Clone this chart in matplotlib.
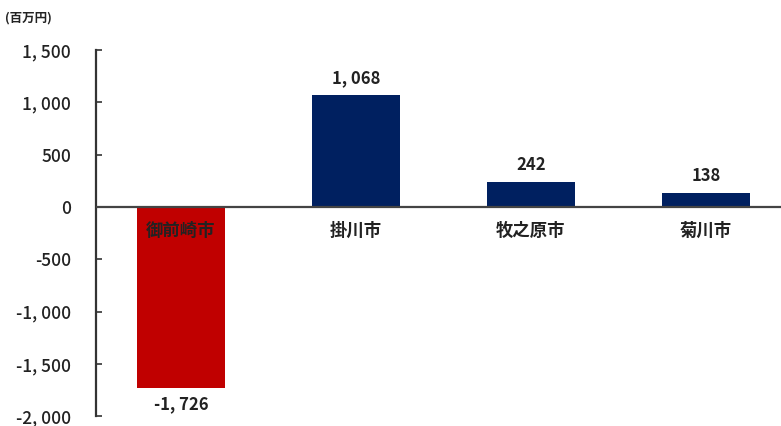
import matplotlib
matplotlib.use("Agg")
import matplotlib.pyplot as plt
from matplotlib.ticker import FixedLocator

plt.rcParams['font.family'] = ['Noto Sans CJK JP', 'DejaVu Sans']

categories = ["御前崎市", "掛川市", "牧之原市", "菊川市"]
values = [-1726, 1068, 242, 138]
value_labels = ["-1, 726", "1, 068", "242", "138"]
colors = ["#C00000", "#002060", "#002060", "#002060"]
yticks = [1500, 1000, 500, 0, -500, -1000, -1500, -2000]
ytick_labels = ["1, 500", "1, 000", "500", "0", "-500", "-1, 000", "-1, 500", "-2, 000"]
unit_label = "(百万円)"

fig = plt.figure(figsize=(7.81, 4.26), dpi=100)
bottom_px = 416.5
ax = fig.add_axes([96/781, 1-bottom_px/426, 1-96/781, (bottom_px-50)/426])

x = list(range(len(categories)))
ax.bar(x, values, width=0.5, color=colors, zorder=2)

ax.set_xlim(-0.486, 3.43)
ax.set_ylim(-2000, 1500)

for s in ["top", "right", "bottom"]:
    ax.spines[s].set_visible(False)
ax.spines["left"].set_color("#333333")
ax.spines["left"].set_linewidth(1.6)
ax.axhline(0, color="#444444", linewidth=1.6, zorder=3)

ax.yaxis.set_major_locator(FixedLocator(yticks))
ax.set_yticklabels(ytick_labels)
ax.tick_params(axis="y", direction="in", length=4, width=1.2, color="#333333",
               pad=18, labelsize=12.5, labelcolor="#222222")
for t in ax.get_yticklabels():
    t.set_fontweight("medium")
ax.set_xticks([])

for i, (v, lab) in enumerate(zip(values, value_labels)):
    if v >= 0:
        ax.annotate(lab, (i, v), xytext=(0, 8), textcoords="offset pixels",
                    ha="center", va="bottom", fontsize=12, color="#222222",
                    fontweight="bold")
    else:
        ax.annotate(lab, (i, v), xytext=(0, -7), textcoords="offset pixels",
                    ha="center", va="top", fontsize=12, color="#222222",
                    fontweight="bold")

for i, c in enumerate(categories):
    ax.annotate(c, (i, 0), xytext=(0, -24), textcoords="offset pixels",
                ha="center", va="center", fontsize=12.5, color="#222222",
                fontweight="bold", zorder=4)

fig.text(5/781, 1-18/426, unit_label, ha="left", va="center", fontsize=9,
         color="#222222", fontweight="bold")

fig.savefig("out.png", dpi=100, facecolor="white")
